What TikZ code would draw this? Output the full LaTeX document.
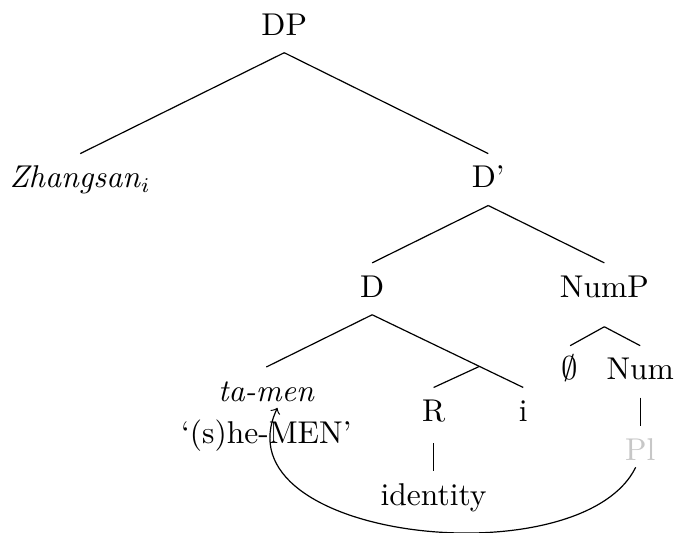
\documentclass[tikz,border=0pt]{standalone}
\usepackage{latexsym,amssymb}
\usepackage{tikz}
\usetikzlibrary{calc}

\tikzset{
  lab/.style={anchor=base, inner xsep=0pt, inner ysep=4pt, text height=7.2pt, text depth=1.7pt,
    font=\fontsize{10.5}{12.6}\selectfont},
  faded/.style={text=black!22}
}

\begin{document}
\begin{tikzpicture}
    \useasboundingbox (0,0) rectangle (7.908,-6.244);
    \node[lab] (dp) at (3.33,-0.41) {DP};
    \node[lab] (zh) at (0.94,-2.20) {\textit{Zhangsan}$_i$};
    \node[lab] (dbar) at (5.72,-2.20) {D'};
    \node[lab] (d) at (4.36,-3.48) {D};
    \node[lab] (nump) at (7.08,-3.48) {NumP};
    \node[lab] (tamen) at (3.12,-4.70) {\textit{ta-men}};
    \node[lab] (gloss) at (3.12,-5.19) {`(s)he-MEN'};
    \node[lab] (r) at (5.08,-4.94) {R};
    \node[lab] (i) at (6.13,-4.94) {i};
    \node[lab] (empty) at (6.68,-4.45) {$\emptyset$};
    \node[lab] (num) at (7.50,-4.45) {Num};
    \node[lab,faded] (pl) at (7.50,-5.39) {Pl};
    \node[lab] (ident) at (5.08,-5.92) {identity};

    \draw (dp.south) -- (zh.north);
    \draw (dp.south) -- (dbar.north);
    \draw (dbar.south) -- (d.north);
    \draw (dbar.south) -- (nump.north);
    \draw (d.south) -- (tamen.north);
    \draw (d.south) -- (i.north);
    \coordinate (rbr) at ($(d.south)!.71!(i.north)$);
    \draw (rbr) -- (r.north);
    \draw ([yshift=-4pt]nump.south) -- (empty.north);
    \draw ([yshift=-4pt]nump.south) -- (num.north);
    \draw ([yshift=-1.3pt]r.south) -- (ident.north);
    \draw (num.south) -- (pl.north);

    \draw[->] ([xshift=-1.5pt,yshift=3.5pt]pl.south) .. controls +(-18.3pt,-37.3pt) and +(-20.7pt,-44.3pt) .. ([xshift=3.7pt,yshift=3.7pt]tamen.south);
\end{tikzpicture}
\end{document}
